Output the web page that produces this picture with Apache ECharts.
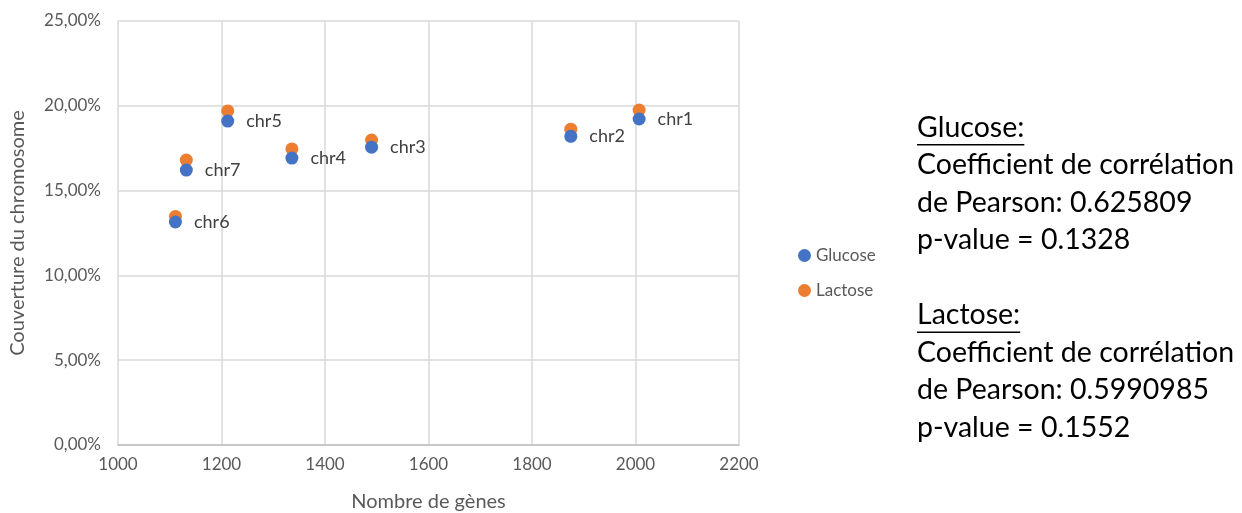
<!DOCTYPE html>
<html><head><meta charset="utf-8">
<script src="https://cdn.jsdelivr.net/npm/echarts@6/dist/echarts.min.js"></script>
<style>html,body{margin:0;padding:0;background:#fff}#c{width:1242px;height:513px}</style>
</head><body><div id="c"></div>
<script>
const chromosomes = ['chr1','chr2','chr3','chr4','chr5','chr6','chr7'];
const geneCounts = [2007, 1875, 1490, 1336, 1212, 1111, 1132];
const glucose = [19.22, 18.20, 17.56, 16.92, 19.10, 13.15, 16.21];
const lactose = [19.75, 18.62, 17.98, 17.46, 19.70, 13.48, 16.80];
const xTicks = { min: 1000, max: 2200, interval: 200 };
const yTicks = { min: 0, max: 25, interval: 5 };
const statsLines = [
  ['Glucose:', true],
  ['Coefficient de corrélation', false],
  ['de Pearson: 0.625809', false],
  ['p-value = 0.1328', false],
  ['', false],
  ['Lactose:', true],
  ['Coefficient de corrélation', false],
  ['de Pearson: 0.5990985', false],
  ['p-value = 0.1552', false]
];

const chart = echarts.init(document.getElementById('c'), null, {renderer: 'canvas'});
const font = 'Lato, "Liberation Sans", sans-serif';
const statFont = '28.5px ' + font;
const mctx = document.createElement('canvas').getContext('2d');
mctx.font = statFont;
const graphics = [];
const lineH = 37.5, base0 = 136, left0 = 917;
statsLines.forEach((l, i) => {
  if (!l[0]) return;
  const base = base0 + i * lineH;
  graphics.push({type: 'text', x: left0, y: base + 6,
    style: {text: l[0], fill: '#000', font: statFont, verticalAlign: 'bottom'}});
  if (l[1]) {
    const w = mctx.measureText(l[0]).width;
    graphics.push({type: 'rect', x: left0, y: base + 8,
      shape: {width: w, height: 1.6}, style: {fill: '#000'}});
  }
});

chart.setOption({
  animation: false,
  grid: {left: 118, top: 21, right: 503, bottom: 68, outerBoundsMode: 'none', containLabel: false},
  legend: {
    orient: 'vertical', left: 793, top: 242, itemGap: 18,
    itemWidth: 13, itemHeight: 13, icon: 'circle',
    textStyle: {color: '#595959', fontSize: 17, fontFamily: font},
    data: ['Glucose', 'Lactose']
  },
  xAxis: {
    type: 'value', min: xTicks.min, max: xTicks.max, interval: xTicks.interval,
    name: 'Nombre de gènes', nameLocation: 'middle', nameGap: 47,
    nameTextStyle: {color: '#595959', fontSize: 20, fontFamily: font},
    axisLine: {show: true, lineStyle: {color: '#bfbfbf', width: 1.5}},
    axisTick: {show: false},
    axisLabel: {color: '#595959', fontSize: 17, fontFamily: font, margin: 11,
      formatter: v => String(v)},
    splitLine: {show: true, lineStyle: {color: '#d9d9d9', width: 1.5}}
  },
  yAxis: {
    type: 'value', min: yTicks.min, max: yTicks.max, interval: yTicks.interval,
    name: 'Couverture du chromosome', nameLocation: 'middle', nameGap: 90,
    nameTextStyle: {color: '#595959', fontSize: 20, fontFamily: font},
    axisLine: {show: false}, axisTick: {show: false},
    axisLabel: {color: '#595959', fontSize: 17, fontFamily: font, margin: 17,
      formatter: v => v.toFixed(2).replace('.', ',') + '%'},
    splitLine: {show: true, lineStyle: {color: '#d9d9d9', width: 1.5}}
  },
  series: [
    {
      name: 'Glucose', type: 'scatter', symbolSize: 13,
      itemStyle: {color: '#4472C4', opacity: 1},
      data: geneCounts.map((g, i) => ({value: [g, glucose[i]], name: chromosomes[i]})),
      label: {show: true, position: 'right', distance: 12, formatter: p => p.name,
        color: '#404040', fontSize: 18, fontFamily: font},
      z: 2
    },
    {
      name: 'Lactose', type: 'scatter', symbolSize: 13,
      itemStyle: {color: '#ED7D31', opacity: 1},
      data: geneCounts.map((g, i) => [g, lactose[i]]),
      z: 1
    }
  ],
  graphic: graphics
});
</script></body></html>
